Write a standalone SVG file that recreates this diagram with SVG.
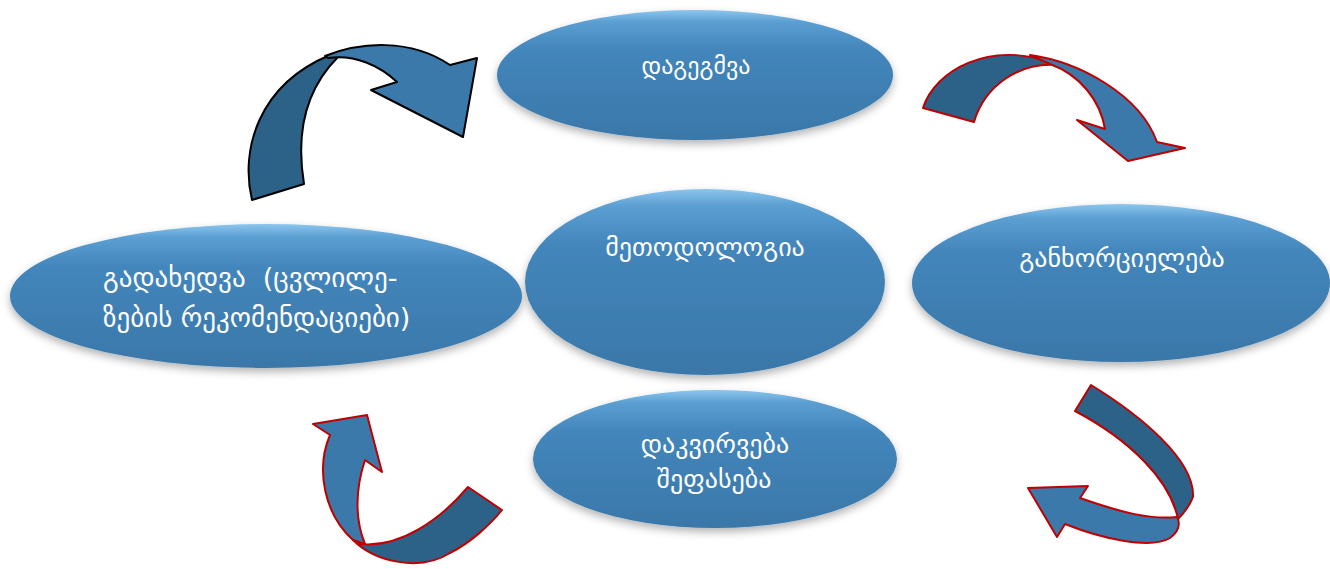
<svg xmlns="http://www.w3.org/2000/svg" width="1330" height="569" viewBox="0 0 1330 569">
<defs>
<linearGradient id="eg" x1="0" y1="0" x2="0" y2="1">
<stop offset="0" stop-color="#8cc6ee"/>
<stop offset="0.09" stop-color="#5b9fd3"/>
<stop offset="0.3" stop-color="#4386bb"/>
<stop offset="1" stop-color="#3a77a9"/>
</linearGradient>
<filter id="sh" x="-10%" y="-10%" width="120%" height="130%">
<feDropShadow dx="0" dy="4" stdDeviation="4" flood-color="#000" flood-opacity="0.3"/>
</filter>
<style>
.node ellipse{fill:url(#eg);filter:url(#sh)}
.node text{fill:#fff;font-family:"DejaVu Sans","Noto Sans",sans-serif;font-size:26px;white-space:pre}
.lt{fill:#3a79a9}
.dk{fill:#2d6288}
.rs{stroke:#c00000;stroke-width:2;stroke-linejoin:round}
.bs{stroke:#000;stroke-width:2;stroke-linejoin:round}
</style>
</defs>
<rect width="1330" height="569" fill="#fff"/>
<g id="connectors">
<g id="arrow-top-left">
<path class="dk bs" d="M252,200 C240,150 258,85 330,55 L338,57 C305,90 296,135 304,184 Z"/>
<path class="lt bs" d="M325,56 C360,42 410,38 450,65 L477,58 L463,137 L371,90 L397,82 C380,66 355,54 328,58 Z"/>
</g>
<g id="arrow-top-right">
<path class="dk rs" d="M923,108 C935,70 990,40 1053,63 L1057,65 C1020,62 985,85 974,122 Z"/>
<path class="lt rs" d="M1030,55 C1080,62 1140,95 1157,142 L1185,148 L1128,161 L1077,120 L1105,129 C1100,100 1080,75 1050,64 Z"/>
</g>
<g id="arrow-bottom-right">
<path class="lt rs" d="M1177,517 C1150,520 1120,512 1080,498 L1088,486 L1028,488 L1057,537 L1065,524 C1100,538 1150,550 1170,538 C1178,532 1180,525 1178,519 Z"/>
<path class="dk rs" d="M1091,385 C1140,415 1195,460 1193,497 C1190,505 1185,512 1178,519 C1170,480 1130,440 1075,411 Z"/>
</g>
<g id="arrow-bottom-left">
<path class="lt rs" d="M330,435 L313,424 L367,415 L382,472 L365,460 C355,490 355,520 365,544 L353,540 C325,515 315,470 330,435 Z"/>
<path class="dk rs" d="M353,540 C375,562 420,572 450,553 C470,543 490,525 502,510 L468,487 C440,520 400,548 360,544 Z"/>
</g>
</g>
<g id="node-planning" class="node">
<ellipse cx="695" cy="75" rx="198" ry="65"/>
<text x="696" y="74" text-anchor="middle" style="font-size:24px">დაგეგმვა</text>
</g>
<g id="node-methodology" class="node">
<ellipse cx="705" cy="282" rx="180" ry="93"/>
<text x="705" y="256" text-anchor="middle">მეთოდოლოგია</text>
</g>
<g id="node-implementation" class="node">
<ellipse cx="1121" cy="283" rx="209" ry="79"/>
<text x="1122" y="267" text-anchor="middle">განხორციელება</text>
</g>
<g id="node-review" class="node">
<ellipse cx="266" cy="296" rx="256" ry="72"/>
<text x="103" y="287" xml:space="preserve" style="font-size:27px">გადახედვა  (ცვლილე-</text>
<text x="103" y="327" style="font-size:27px">ზების რეკომენდაციები)</text>
</g>
<g id="node-monitoring" class="node">
<ellipse cx="715" cy="459" rx="182" ry="69"/>
<text x="715" y="453" text-anchor="middle">დაკვირვება</text>
<text x="714" y="488" text-anchor="middle">შეფასება</text>
</g>
</svg>
